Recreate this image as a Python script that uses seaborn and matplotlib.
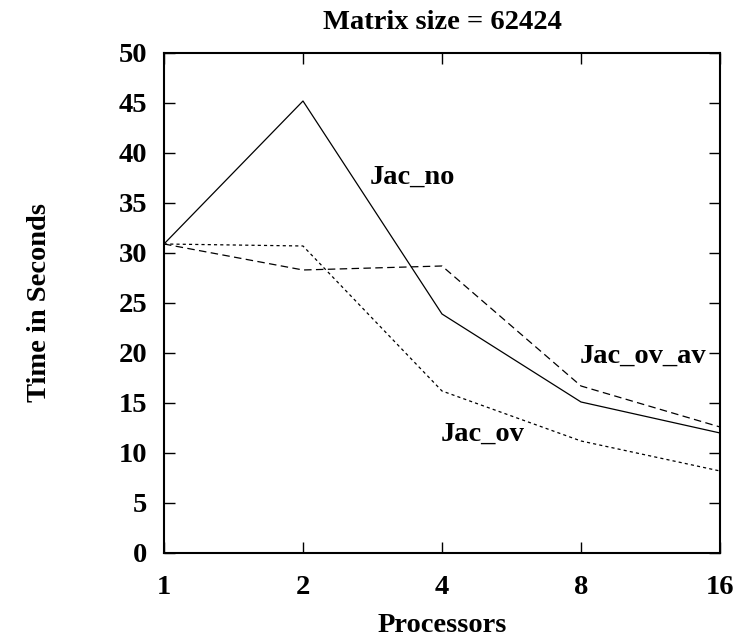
import pandas as pd
import numpy as np
import seaborn as sns
import matplotlib.pyplot as plt

processors = ['1', '2', '4', '8', '16']
jac_no = [30.9, 45.2, 23.9, 15.1, 12.0]
jac_ov = [30.9, 30.7, 16.2, 11.2, 8.2]
jac_ov_av = [30.9, 28.3, 28.7, 16.7, 12.6]

sns.set_style('ticks')
plt.rcParams['font.family'] = ['Liberation Serif', 'DejaVu Serif']
plt.rcParams['font.weight'] = 'bold'
plt.rcParams['text.color'] = 'black'
plt.rcParams['axes.labelcolor'] = 'black'

fig = plt.figure(figsize=(7.38, 6.37), dpi=100)
ax = fig.add_axes([0.2222, 0.1319, 0.7534, 0.7849])

pos = np.arange(len(processors))
sns.lineplot(x=pos, y=jac_no, ax=ax, color='black', linewidth=0.9)
sns.lineplot(x=pos, y=jac_ov, ax=ax, color='black', linewidth=0.9)
sns.lineplot(x=pos, y=jac_ov_av, ax=ax, color='black', linewidth=0.9)
ax.lines[1].set_dashes([2.5, 2.5])
ax.lines[2].set_dashes([6, 3.5])

ax.set_xlim(0, len(processors) - 1)
ax.set_ylim(0, 50)
ax.set_xticks(pos)
ax.set_xticklabels(processors)
ax.set_yticks(range(0, 51, 5))

fs = 20.5
ax.tick_params(direction='in', length=8, width=1, top=True, right=True,
               labelsize=fs, pad=12, colors='black')
ax.tick_params(axis='x', pad=16)
for s in ax.spines.values():
    s.set_visible(True)
    s.set_linewidth(1.5)
    s.set_color('black')

ax.set_title('Matrix size = 62424', fontsize=fs, fontweight='bold', pad=17)
ax.set_xlabel('Processors', fontsize=fs, fontweight='bold', labelpad=9)
ax.set_ylabel('Time in Seconds', fontsize=fs, fontweight='bold', labelpad=48)

ax.text(1.79, 37.6, 'Jac_no', fontsize=fs, fontweight='bold', ha='center', va='center')
ax.text(3.90, 19.7, 'Jac_ov_av', fontsize=fs, fontweight='bold', ha='right', va='center')
ax.text(2.29, 11.9, 'Jac_ov', fontsize=fs, fontweight='bold', ha='center', va='center')

fig.savefig('out.png', dpi=100)
